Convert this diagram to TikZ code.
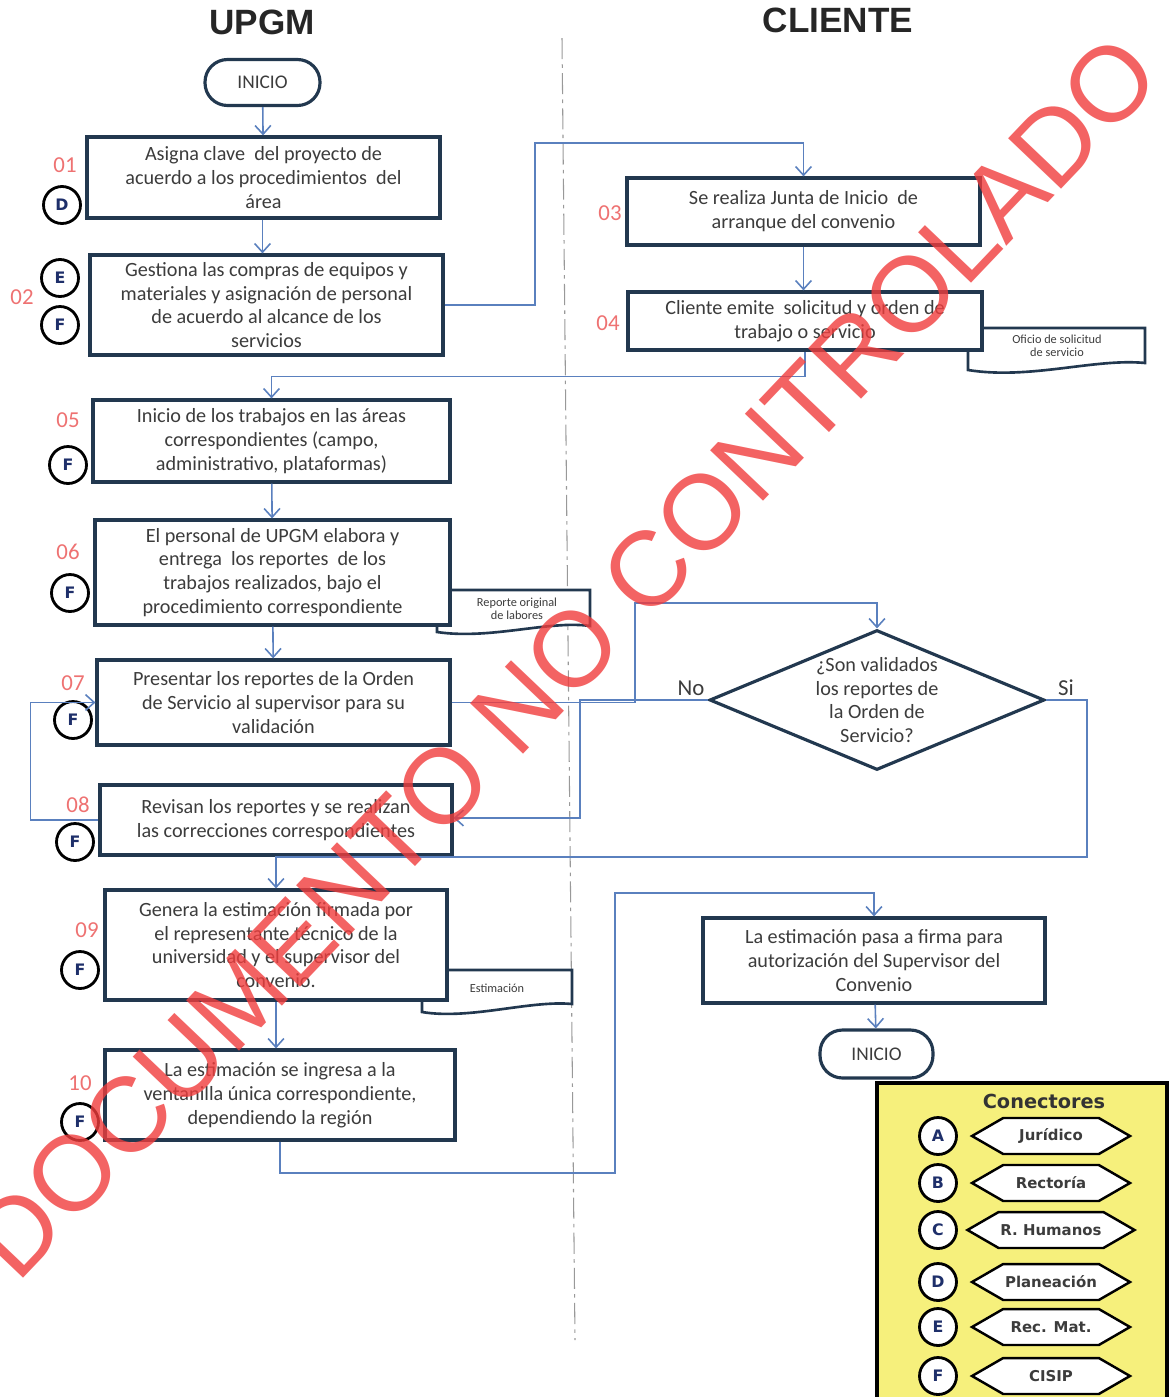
\documentclass[tikz,border=0pt]{standalone}
\usepackage{fontspec}
\setmainfont{Carlito}
\newfontfamily\headfont{Liberation Sans}
\newfontfamily\legfont{DejaVu Sans}
\usetikzlibrary{arrows.meta,shapes.geometric,shapes.symbols}
\definecolor{boxline}{HTML}{22384F}
\definecolor{flowblue}{HTML}{5A80BE}
\definecolor{numred}{HTML}{EE7272}
\definecolor{txtgray}{HTML}{3C3C3C}
\definecolor{letblue}{HTML}{1E2F6A}
\definecolor{legyellow}{HTML}{F6F07C}
\definecolor{wmred}{HTML}{F03C3C}
\begin{document}
\begin{tikzpicture}[x=.02cm,y=-.02cm,
	box/.style={draw=boxline,line width=1.8pt,fill=white,align=center,minimum width=7.06cm,inner sep=2pt,text=txtgray,font=\fontsize{11.5}{13.6}\selectfont},
	term/.style={draw=boxline,line width=1.8pt,fill=white,rounded corners=.45cm,minimum width=2.3cm,minimum height=.92cm,text=txtgray,font=\fontsize{11}{12}\selectfont},
	decision/.style={diamond,draw=boxline,line width=1.8pt,fill=white,inner sep=0pt,minimum width=6.7cm,minimum height=2.8cm},
	conn/.style={circle,draw=black,line width=1.6pt,fill=white,minimum size=.74cm,inner sep=0pt,text=letblue,font=\legfont\bfseries\fontsize{9}{9}\selectfont},
	num/.style={text=numred,font=\fontsize{13}{13}\selectfont},
	flow/.style={draw=flowblue,line width=.9pt,-{Straight Barb[length=5pt,width=9pt]}},
	docu/.style={draw=boxline,line width=1.5pt,fill=white},
	doctext/.style={text=txtgray,align=center,font=\fontsize{7}{7.5}\selectfont},
	tag/.style={signal,signal to=west and east,signal pointer angle=60,draw=black,line width=1.4pt,fill=white,minimum width=3.16cm,minimum height=.72cm,inner sep=1pt,text=txtgray,font=\legfont\bfseries\fontsize{8.5}{9}\selectfont}]
\useasboundingbox(0,0)rectangle(1169,1397);
% titulos y division
\node[font=\headfont\bfseries\fontsize{20}{20}\selectfont,text=black!85](tupgm)at(262,22){UPGM};
\node[font=\headfont\bfseries\fontsize{20}{20}\selectfont,text=black!85](tcli)at(838,20){CLIENTE};
\draw[gray!80,line width=.6pt,dash pattern=on 12pt off 3pt on 2pt off 3pt](562,38)--(575,1340);
% documentos
\draw[docu](968,328)--(1145,328)--(1145,363) .. controls (1095,358) and (1030,380) .. (968,370)--cycle;
\node[doctext](doc1)at(1057,346){Oficio de solicitud\\de servicio};
\draw[docu](437,590)--(590,590)--(590,626) .. controls (550,620) and (490,640) .. (437,632)--cycle;
\node[doctext](doc2)at(517,609){Reporte original\\de labores};
\draw[docu](422,970)--(572,970)--(572,1004) .. controls (530,1000) and (470,1020) .. (422,1012)--cycle;
\node[doctext](doc3)at(497,988){Estimación};
% pasos
\node[term](ini)at(262.5,82.5){INICIO};
\node[box,minimum height=1.62cm](b01)at(263.5,177.5){Asigna clave\ \ del proyecto de\\acuerdo a los procedimientos\ \ del\\área};
\node[box,minimum height=2.0cm](b02)at(266.5,305){Gestiona las compras de equipos y\\materiales y asignación de personal\\de acuerdo al alcance de los\\servicios};
\node[box,minimum height=1.34cm](b03)at(803.5,211.5){Se realiza Junta de Inicio\ \ de\\arranque del convenio};
\node[box,minimum height=1.16cm,minimum width=7.08cm](b04)at(805,321){Cliente emite\ \ solicitud y orden de\\trabajo o servicio};
\node[box,minimum height=1.64cm,minimum width=7.14cm](b05)at(271.5,441){Inicio de los trabajos en las áreas\\correspondientes (campo,\\administrativo, plataformas)};
\node[box,minimum height=2.1cm,minimum width=7.1cm](b06)at(272.5,572.5){El personal de UPGM elabora y\\entrega\ \ los reportes\ \ de los\\trabajos realizados, bajo el\\procedimiento correspondiente};
\node[box,minimum height=1.7cm](b07)at(273.5,702.5){Presentar los reportes de la Orden\\de Servicio al supervisor para su\\validación};
\node[box,minimum height=1.4cm,minimum width=7.04cm](b08)at(276,820){Revisan los reportes y se realizan\\las correcciones correspondientes};
\node[box,minimum height=2.2cm,minimum width=6.84cm](b09)at(276,945){Genera la estimación firmada por\\el representante técnico de la\\universidad y el supervisor del\\convenio.};
\node[box,minimum height=1.8cm,minimum width=7.0cm](b10)at(280,1095){La estimación se ingresa a la\\ventanilla única correspondiente,\\dependiendo la región};
\node[box,minimum height=1.7cm,minimum width=6.84cm](b11)at(874,960.5){La estimación pasa a firma para\\autorización del Supervisor del\\Convenio};
\node[term,minimum width=2.26cm,minimum height=.96cm](fin)at(876.5,1054){INICIO};
\node[decision](q)at(877,700){};
\node[align=center,text=txtgray,font=\fontsize{11.5}{13.4}\selectfont](qtxt)at(q){¿Son validados\\los reportes de\\la Orden de\\Servicio?};
\node[font=\fontsize{13}{13}\selectfont,text=txtgray](no)at(691,688){No};
\node[font=\fontsize{13}{13}\selectfont,text=txtgray](si)at(1066,688){Si};
% numeros y conectores
\foreach\t/\x/\y in {01/65/165,02/22/297,03/610/213,04/608/323,05/68/420,06/68/552,07/73/683,08/78/805,09/87/930,10/80/1083}
	\node[num](n\t)at(\x,\y){\t};
\foreach\l/\x/\y/\k in {D/62/205/1,E/60/278/2,F/60/325/3,F/68/465/4,F/70/593/5,F/73/720/6,F/75/842/7,F/80/970/8,F/80/1122/9}
	\node[conn](c\k)at(\x,\y){\l};
% flechas
\coordinate(k1)at(535,143);
\coordinate(k3)at(635,603);
\coordinate(k4)at(580,818);
\coordinate(k5)at(1087,857);
\coordinate(k6)at(615,1173);
\coordinate(k7)at(615,893);
\draw[flow](ini)--(b01);
\draw[flow](b01.south-|ini)--(b02.north-|ini);
\draw[flow](b02.east)-|(k1)-|(b03.north);
\draw[flow](b03.south)--(b03.south|-b04.north);
\draw[flow](b04.south)--++(0,25)-|(b05.north);
\draw[flow](b05)--(b06);
\draw[flow](b06)--(b07);
\draw[flow](b07.east)-|(k3)-|(q.north);
\draw[flow](q.west)-|(k4)--(b08.east|-k4);
\draw[flow](b08.west)--++(-68,0)|-(b07.west);
\draw[flow](q.east)-|(k5)-|(b09.north);
\draw[flow](b09.south)--(b09.south|-b10.north);
\draw[flow](b10.south)|-(k6)--(k7)-|(b11.north);
\draw[flow](b11)--(fin);
% conectores (leyenda)
\draw[black,line width=1.8pt,fill=legyellow](877,1083)rectangle(1167,1405);
\node[text=black!80,font=\legfont\bfseries\fontsize{11}{11}\selectfont](ltit)at(1044,1101){Conectores};
\foreach\l/\n/\y in {A/Jurídico/1136,B/Rectoría/1183,C/R. Humanos/1230,D/Planeación/1282,E/Rec. Mat./1327,F/CISIP/1376}{%
	\node[conn](lc\l)at(938,\y){\l};
	\node[tag](lt\l)at(1051,\y){\n};}
% sello
\node[rotate=46.4,text=wmred,opacity=.8,font=\headfont\fontsize{60.5}{60.5}\selectfont](wm)at(565,657){DOCUMENTO NO CONTROLADO};
\end{tikzpicture}
\end{document}
